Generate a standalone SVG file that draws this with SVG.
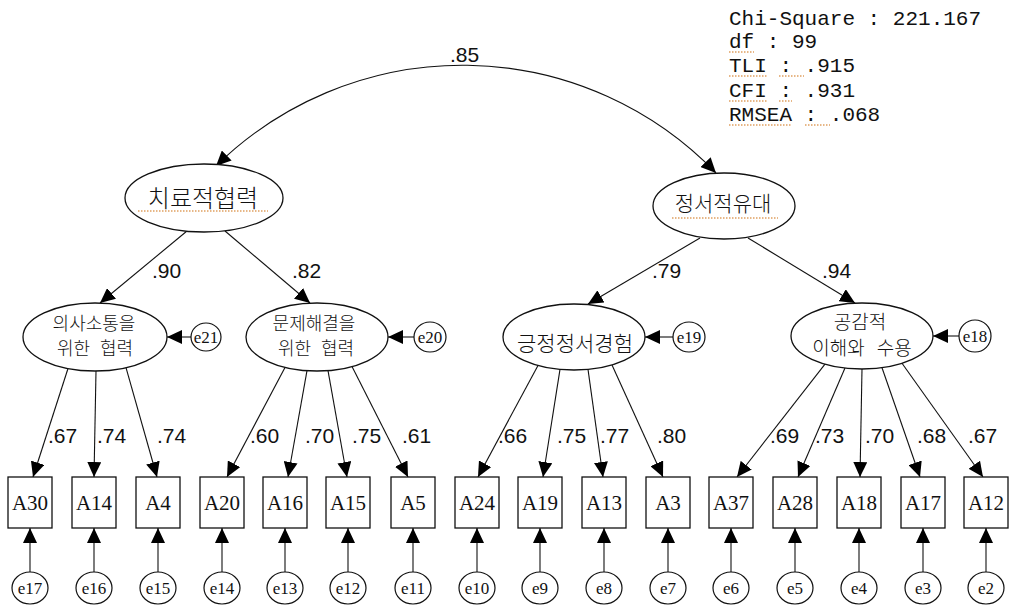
<svg xmlns="http://www.w3.org/2000/svg" width="1009" height="607" viewBox="0 0 1009 607">
<style>
.bg{fill:#ffffff}
.lat{fill:#ffffff;stroke:#111;stroke-width:1.3}
.box{fill:#ffffff;stroke:#111;stroke-width:1.3}
.err{fill:#ffffff;stroke:#111;stroke-width:1.2}
.ln{fill:none;stroke:#111;stroke-width:1.1}
.arr{marker-end:url(#ah)}
.kr{font-family:"Noto Sans CJK KR","Noto Sans",sans-serif;font-weight:300;fill:#111;text-anchor:middle}
.num{font-family:"Liberation Sans",Arial,sans-serif;font-size:21px;fill:#111}
.var{font-family:"Liberation Serif","Times New Roman",serif;font-size:21px;fill:#111;text-anchor:middle}
.el{font-family:"Liberation Serif","Times New Roman",serif;font-size:17px;fill:#111;text-anchor:middle}
.fit{font-family:"Liberation Mono","Courier New",monospace;font-size:21px;fill:#111}
.sq{stroke:#e0a060;stroke-width:1.5;stroke-dasharray:1.5 1.5;fill:none}
</style>
<defs>
<marker id="ah" viewBox="0 0 15 14" refX="15" refY="7" markerWidth="15" markerHeight="14" markerUnits="userSpaceOnUse" orient="auto-start-reverse">
<path d="M0,0 L15,7 L0,14 z" fill="#000"/>
</marker>
</defs>
<rect class="bg" x="0" y="0" width="1009" height="607"/>

<g id="connectors">
<path class="ln" d="M216,166 A352,352 0 0,1 716,173" marker-start="url(#ah)" marker-end="url(#ah)"/>
<line class="ln arr" x1="187" y1="231" x2="100" y2="303"/>
<line class="ln arr" x1="225" y1="231" x2="310" y2="303"/>
<line class="ln arr" x1="700" y1="238" x2="588" y2="304"/>
<line class="ln arr" x1="748" y1="238" x2="855" y2="303"/>
<line class="ln arr" x1="191" y1="337" x2="167" y2="337"/>
<line class="ln arr" x1="414" y1="337" x2="388" y2="337"/>
<line class="ln arr" x1="673" y1="337" x2="645" y2="337"/>
<line class="ln arr" x1="959" y1="336" x2="933" y2="336"/>
<line class="ln arr" x1="68" y1="368.5" x2="33" y2="477"/>
<line class="ln arr" x1="96" y1="371" x2="94" y2="477"/>
<line class="ln arr" x1="126" y1="367.7" x2="157" y2="477"/>
<line class="ln arr" x1="285" y1="367.4" x2="227" y2="477"/>
<line class="ln arr" x1="307" y1="370.7" x2="288" y2="477"/>
<line class="ln arr" x1="328" y1="370.6" x2="347" y2="477"/>
<line class="ln arr" x1="352" y1="366.6" x2="408" y2="477"/>
<line class="ln arr" x1="538" y1="365.4" x2="478" y2="477"/>
<line class="ln arr" x1="560" y1="369.3" x2="543" y2="477"/>
<line class="ln arr" x1="588" y1="369.3" x2="603" y2="477"/>
<line class="ln arr" x1="612" y1="364.9" x2="663" y2="477"/>
<line class="ln arr" x1="825" y1="364.2" x2="737" y2="477"/>
<line class="ln arr" x1="845" y1="368" x2="798" y2="477"/>
<line class="ln arr" x1="862" y1="369" x2="860" y2="477"/>
<line class="ln arr" x1="882" y1="367.7" x2="920" y2="477"/>
<line class="ln arr" x1="902" y1="363.3" x2="983" y2="477"/>
<line class="ln arr" x1="30" y1="572" x2="30" y2="528"/>
<line class="ln arr" x1="94" y1="572" x2="94" y2="528"/>
<line class="ln arr" x1="158" y1="572" x2="158" y2="528"/>
<line class="ln arr" x1="222" y1="572" x2="222" y2="528"/>
<line class="ln arr" x1="285" y1="572" x2="285" y2="528"/>
<line class="ln arr" x1="348" y1="572" x2="348" y2="528"/>
<line class="ln arr" x1="413" y1="572" x2="413" y2="528"/>
<line class="ln arr" x1="477" y1="572" x2="477" y2="528"/>
<line class="ln arr" x1="540" y1="572" x2="540" y2="528"/>
<line class="ln arr" x1="604" y1="572" x2="604" y2="528"/>
<line class="ln arr" x1="668" y1="572" x2="668" y2="528"/>
<line class="ln arr" x1="731" y1="572" x2="731" y2="528"/>
<line class="ln arr" x1="795" y1="572" x2="795" y2="528"/>
<line class="ln arr" x1="859" y1="572" x2="859" y2="528"/>
<line class="ln arr" x1="923" y1="572" x2="923" y2="528"/>
<line class="ln arr" x1="986" y1="572" x2="986" y2="528"/>
</g>

<g id="path-labels">
<text class="num" x="450" y="62" font-size="20">.85</text>
<text class="num" x="152" y="278">.90</text>
<text class="num" x="292" y="278">.82</text>
<text class="num" x="652" y="278">.79</text>
<text class="num" x="822" y="278">.94</text>
<text class="num" x="48" y="443">.67</text>
<text class="num" x="97" y="443">.74</text>
<text class="num" x="157" y="443">.74</text>
<text class="num" x="250" y="443">.60</text>
<text class="num" x="305" y="443">.70</text>
<text class="num" x="352" y="443">.75</text>
<text class="num" x="402" y="443">.61</text>
<text class="num" x="498" y="443">.66</text>
<text class="num" x="557" y="443">.75</text>
<text class="num" x="600" y="443">.77</text>
<text class="num" x="657" y="443">.80</text>
<text class="num" x="770" y="443">.69</text>
<text class="num" x="815" y="443">.73</text>
<text class="num" x="865" y="443">.70</text>
<text class="num" x="917" y="443">.68</text>
<text class="num" x="968" y="443">.67</text>
</g>

<g id="fit-indices">
<text class="fit" x="729" y="25">Chi-Square : 221.167</text>
<text class="fit" x="729" y="48">df : 99</text>
<text class="fit" x="729" y="72">TLI : .915</text>
<text class="fit" x="729" y="97">CFI : .931</text>
<text class="fit" x="729" y="121">RMSEA : .068</text>
<path class="sq" d="M729,52 H754 M729,76 H767 M779,76 H804 M729,101 H767 M779,101 H792 M729,125 H792 M805,125 H830"/>
</g>

<g id="F1">
<ellipse class="lat" cx="204" cy="198" rx="79" ry="34"/>
<text class="kr" x="203" y="207" font-size="24">치료적협력</text>
<path class="sq" d="M138,211 H268"/>
</g>
<g id="F2">
<ellipse class="lat" cx="724" cy="206" rx="71" ry="33"/>
<text class="kr" x="723" y="211" font-size="21">정서적유대</text>
<path class="sq" d="M672,218 H778"/>
</g>

<g id="L1">
<ellipse class="lat" cx="95" cy="337" rx="72" ry="34"/>
<text class="kr" x="94" y="330" font-size="18">의사소통을</text>
<text class="kr" x="95" y="355" font-size="18">위한 <tspan dx="6">협력</tspan></text>
</g>
<g id="L2">
<ellipse class="lat" cx="317" cy="337" rx="71" ry="34"/>
<text class="kr" x="314" y="330" font-size="18">문제해결을</text>
<text class="kr" x="316" y="355" font-size="18">위한 <tspan dx="6">협력</tspan></text>
</g>
<g id="L3">
<ellipse class="lat" cx="574" cy="337" rx="71" ry="33"/>
<text class="kr" x="575" y="351" font-size="21">긍정정서경험</text>
</g>
<g id="L4">
<ellipse class="lat" cx="862" cy="336" rx="71" ry="33"/>
<text class="kr" x="860" y="329" font-size="19">공감적</text>
<text class="kr" x="862" y="355" font-size="19">이해와 <tspan dx="8">수용</tspan></text>
</g>

<g id="e21"><ellipse class="err" cx="206" cy="337" rx="15" ry="14"/><text class="el" x="206" y="343">e21</text></g>
<g id="e20"><ellipse class="err" cx="430" cy="337" rx="16" ry="15"/><text class="el" x="430" y="343">e20</text></g>
<g id="e19"><ellipse class="err" cx="689" cy="337" rx="16" ry="15"/><text class="el" x="689" y="343">e19</text></g>
<g id="e18"><ellipse class="err" cx="975" cy="336" rx="16" ry="16"/><text class="el" x="975" y="342">e18</text></g>

<g id="A30"><rect class="box" x="8" y="477" width="44" height="51"/><text class="var" x="30" y="510">A30</text></g>
<g id="A14"><rect class="box" x="72" y="477" width="44" height="51"/><text class="var" x="94" y="510">A14</text></g>
<g id="A4"><rect class="box" x="136" y="477" width="44" height="51"/><text class="var" x="158" y="510">A4</text></g>
<g id="A20"><rect class="box" x="200" y="477" width="44" height="51"/><text class="var" x="222" y="510">A20</text></g>
<g id="A16"><rect class="box" x="263" y="477" width="44" height="51"/><text class="var" x="285" y="510">A16</text></g>
<g id="A15"><rect class="box" x="326" y="477" width="44" height="51"/><text class="var" x="348" y="510">A15</text></g>
<g id="A5"><rect class="box" x="391" y="477" width="44" height="51"/><text class="var" x="413" y="510">A5</text></g>
<g id="A24"><rect class="box" x="455" y="477" width="44" height="51"/><text class="var" x="477" y="510">A24</text></g>
<g id="A19"><rect class="box" x="518" y="477" width="44" height="51"/><text class="var" x="540" y="510">A19</text></g>
<g id="A13"><rect class="box" x="582" y="477" width="44" height="51"/><text class="var" x="604" y="510">A13</text></g>
<g id="A3"><rect class="box" x="646" y="477" width="44" height="51"/><text class="var" x="668" y="510">A3</text></g>
<g id="A37"><rect class="box" x="709" y="477" width="44" height="51"/><text class="var" x="731" y="510">A37</text></g>
<g id="A28"><rect class="box" x="773" y="477" width="44" height="51"/><text class="var" x="795" y="510">A28</text></g>
<g id="A18"><rect class="box" x="837" y="477" width="44" height="51"/><text class="var" x="859" y="510">A18</text></g>
<g id="A17"><rect class="box" x="901" y="477" width="44" height="51"/><text class="var" x="923" y="510">A17</text></g>
<g id="A12"><rect class="box" x="964" y="477" width="44" height="51"/><text class="var" x="986" y="510">A12</text></g>

<g id="e17"><ellipse class="err" cx="30" cy="588" rx="18" ry="16"/><text class="el" x="30" y="594">e17</text></g>
<g id="e16"><ellipse class="err" cx="94" cy="588" rx="18" ry="16"/><text class="el" x="94" y="594">e16</text></g>
<g id="e15"><ellipse class="err" cx="158" cy="588" rx="18" ry="16"/><text class="el" x="158" y="594">e15</text></g>
<g id="e14"><ellipse class="err" cx="222" cy="588" rx="18" ry="16"/><text class="el" x="222" y="594">e14</text></g>
<g id="e13"><ellipse class="err" cx="285" cy="588" rx="18" ry="16"/><text class="el" x="285" y="594">e13</text></g>
<g id="e12"><ellipse class="err" cx="348" cy="588" rx="18" ry="16"/><text class="el" x="348" y="594">e12</text></g>
<g id="e11"><ellipse class="err" cx="413" cy="588" rx="18" ry="16"/><text class="el" x="413" y="594">e11</text></g>
<g id="e10"><ellipse class="err" cx="477" cy="588" rx="18" ry="16"/><text class="el" x="477" y="594">e10</text></g>
<g id="e9"><ellipse class="err" cx="540" cy="588" rx="18" ry="16"/><text class="el" x="540" y="594">e9</text></g>
<g id="e8"><ellipse class="err" cx="604" cy="588" rx="18" ry="16"/><text class="el" x="604" y="594">e8</text></g>
<g id="e7"><ellipse class="err" cx="668" cy="588" rx="18" ry="16"/><text class="el" x="668" y="594">e7</text></g>
<g id="e6"><ellipse class="err" cx="731" cy="588" rx="18" ry="16"/><text class="el" x="731" y="594">e6</text></g>
<g id="e5"><ellipse class="err" cx="795" cy="588" rx="18" ry="16"/><text class="el" x="795" y="594">e5</text></g>
<g id="e4"><ellipse class="err" cx="859" cy="588" rx="18" ry="16"/><text class="el" x="859" y="594">e4</text></g>
<g id="e3"><ellipse class="err" cx="923" cy="588" rx="18" ry="16"/><text class="el" x="923" y="594">e3</text></g>
<g id="e2"><ellipse class="err" cx="986" cy="588" rx="18" ry="16"/><text class="el" x="986" y="594">e2</text></g>
</svg>
